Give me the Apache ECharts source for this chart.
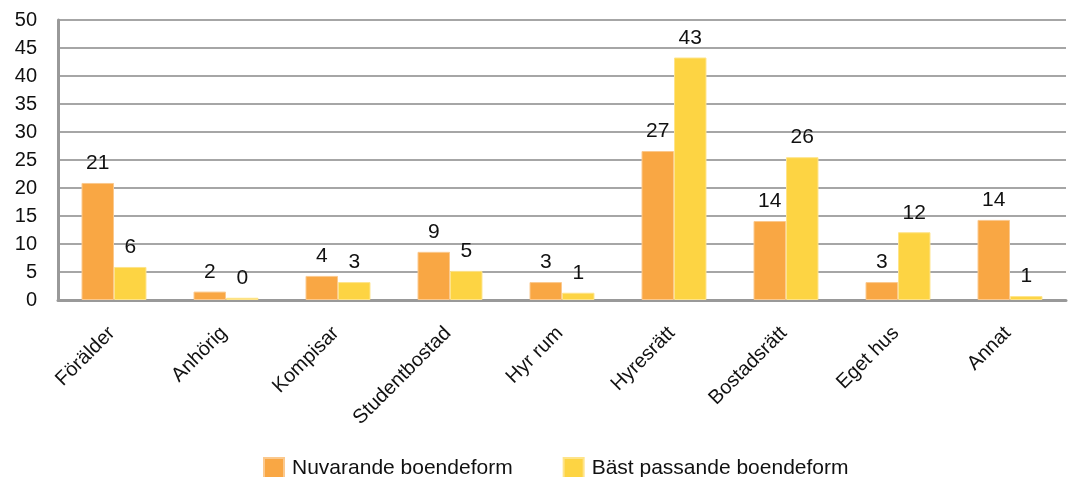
<!DOCTYPE html>
<html>
<head>
<meta charset="utf-8">
<script src="https://cdn.jsdelivr.net/npm/echarts@6/dist/echarts.min.js"></script>
<style>
  html, body { margin: 0; padding: 0; background: #ffffff; }
  #chart { width: 1069px; height: 477px; }
</style>
</head>
<body>
<div id="chart"></div>
<script>
// Boendeform: nuvarande vs. bäst passande (procent)
const categories = ['Förälder', 'Anhörig', 'Kompisar', 'Studentbostad', 'Hyr rum', 'Hyresrätt', 'Bostadsrätt', 'Eget hus', 'Annat'];
const seriesNames = ['Nuvarande boendeform', 'Bäst passande boendeform'];
const nuvarande = [20.9, 1.5, 4.3, 8.6, 3.2, 26.6, 14.1, 3.2, 14.3];
const bastPassande = [5.9, 0.4, 3.2, 5.2, 1.3, 43.3, 25.5, 12.1, 0.7];
const yTicks = { min: 0, max: 50, interval: 5 };

const colors = ['#F9A744', '#FDD443'];
const textColor = '#111111';
const fontFamily = 'Liberation Sans, Arial, sans-serif';

const chart = echarts.init(document.getElementById('chart'), null, { renderer: 'canvas' });

function barSeries(name, data, color, borderColor) {
  return {
    name: name,
    type: 'bar',
    data: data,
    barGap: '0%',
    barCategoryGap: '42%',
    itemStyle: { color: color, borderColor: borderColor, borderWidth: 1 },
    label: {
      show: true,
      position: 'top',
      distance: 9,
      color: textColor,
      fontFamily: fontFamily,
      fontSize: 21,
      formatter: p => String(Math.round(p.value))
    },
    emphasis: { disabled: true }
  };
}

chart.setOption({
  animation: false,
  textStyle: { fontFamily: fontFamily },
  grid: { left: 58, right: 3, top: 20, bottom: 177, containLabel: false },
  legend: {
    left: 258,
    top: 452,
    itemWidth: 20,
    itemHeight: 20,
    itemGap: 50,
    icon: 'rect',
    textStyle: { color: textColor, fontSize: 21, fontFamily: fontFamily, padding: [0, 0, 0, 3] },
    data: seriesNames
  },
  xAxis: {
    type: 'category',
    data: categories,
    axisLine: { show: true, lineStyle: { color: '#999999', width: 3 } },
    axisTick: { show: false },
    axisLabel: {
      rotate: 45,
      margin: 28,
      padding: [0, 3, 0, 0],
      color: textColor,
      fontSize: 20,
      fontFamily: fontFamily,
      interval: 0
    }
  },
  yAxis: {
    type: 'value',
    min: yTicks.min,
    max: yTicks.max,
    interval: yTicks.interval,
    axisLine: { show: true, lineStyle: { color: '#999999', width: 3 } },
    axisTick: { show: false },
    axisLabel: { color: textColor, fontSize: 20, fontFamily: fontFamily, margin: 21 },
    splitLine: { show: true, lineStyle: { color: '#a6a6a6', width: 2 } }
  },
  series: [
    barSeries(seriesNames[0], nuvarande, colors[0], '#FBC98E'),
    barSeries(seriesNames[1], bastPassande, colors[1], '#FEE48A')
  ]
});
</script>
</body>
</html>
